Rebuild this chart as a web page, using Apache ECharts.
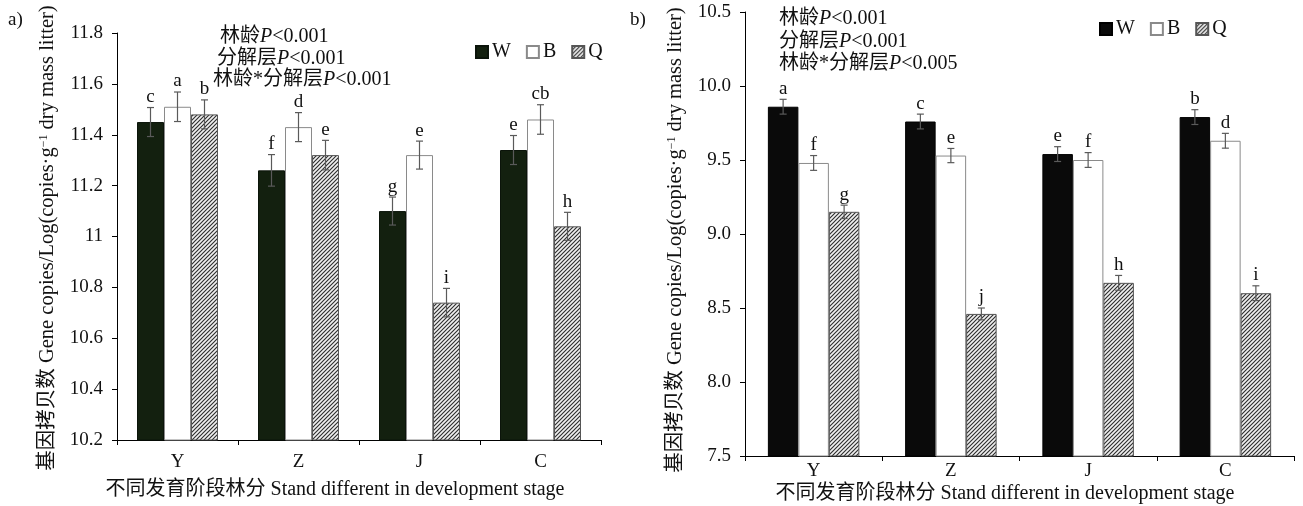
<!DOCTYPE html>
<html><head><meta charset="utf-8">
<script src="https://cdn.jsdelivr.net/npm/echarts@6/dist/echarts.min.js"></script>
<style>html,body{margin:0;padding:0;background:#fff}#c{width:1303px;height:506px}</style>
</head><body><div id="c"></div>
<script>
// ---- data ----
const categories = ['Y', 'Z', 'J', 'C'];
const seriesNames = ['W', 'B', 'Q'];
// panel a
const aW = [11.45, 11.26, 11.10, 11.34];
const aB = [11.51, 11.43, 11.32, 11.46];
const aQ = [11.48, 11.32, 10.74, 11.04];
const aWErr = [0.057, 0.062, 0.055, 0.057];
const aBErr = [0.058, 0.057, 0.055, 0.058];
const aQErr = [0.057, 0.058, 0.056, 0.055];
const aWLetters = ['c', 'f', 'g', 'e'];
const aBLetters = ['a', 'd', 'e', 'cb'];
const aQLetters = ['b', 'e', 'i', 'h'];
const aTicks = ['10.2', '10.4', '10.6', '10.8', '11', '11.2', '11.4', '11.6', '11.8'];
const aNotes = ['林龄', '分解层', '林龄*分解层'];
const aP = ['<0.001', '<0.001', '<0.001'];
// panel b
const bW = [9.86, 9.76, 9.54, 9.79];
const bB = [9.48, 9.53, 9.50, 9.63];
const bQ = [9.15, 8.46, 8.67, 8.60];
const bWErr = [0.05, 0.05, 0.05, 0.05];
const bBErr = [0.05, 0.048, 0.05, 0.05];
const bQErr = [0.045, 0.04, 0.05, 0.05];
const bWLetters = ['a', 'c', 'e', 'b'];
const bBLetters = ['f', 'e', 'f', 'd'];
const bQLetters = ['g', 'j', 'h', 'i'];
const bTicks = ['7.5', '8.0', '8.5', '9.0', '9.5', '10.0', '10.5'];
const bNotes = ['林龄', '分解层', '林龄*分解层'];
const bP = ['<0.001', '<0.001', '<0.005'];

const yTitle = '基因拷贝数 Gene copies/Log(copies·g{sup|−1} dry mass litter)';
const xTitle = '不同发育阶段林分 Stand different in development stage';

// ---- styles ----
const FONT = "'Liberation Serif', 'Noto Sans CJK SC', serif";
function hatch() {
  const c = document.createElement('canvas');
  c.width = 4; c.height = 4;
  const g = c.getContext('2d');
  g.fillStyle = '#f0f0f0'; g.fillRect(0, 0, 4, 4);
  g.strokeStyle = '#2e2e2e'; g.lineWidth = 1.15;
  g.beginPath();
  g.moveTo(-1, 5); g.lineTo(5, -1);
  g.moveTo(-1, 1); g.lineTo(1, -1);
  g.moveTo(3, 5); g.lineTo(5, 3);
  g.stroke();
  return c;
}
const hatchPattern = { image: hatch(), repeat: 'repeat' };

function barSeries(name, data, gi, color, border, bw) {
  return {
    type: 'bar', name, data, xAxisIndex: gi, yAxisIndex: gi,
    barWidth: bw, barGap: '0%',
    itemStyle: { color, borderColor: border, borderWidth: 1 },
    z: 2
  };
}
function errSeries(vals, errs, letters, k, gi, bw) {
  return {
    type: 'custom', xAxisIndex: gi, yAxisIndex: gi, silent: true, z: 5,
    data: vals.map((v, i) => [i, v, errs[i]]),
    renderItem: (params, api) => {
      const ci = api.value(0), v = api.value(1), e = api.value(2);
      const t = api.coord([ci, v + e]), b = api.coord([ci, v - e]);
      const x = t[0] + (k - 1) * bw;
      const st = { stroke: '#5a5a5a', lineWidth: 1.2 };
      return {
        type: 'group', children: [
          { type: 'line', shape: { x1: x, y1: t[1], x2: x, y2: b[1] }, style: st },
          { type: 'line', shape: { x1: x - 3.5, y1: t[1], x2: x + 3.5, y2: t[1] }, style: st },
          { type: 'line', shape: { x1: x - 3.5, y1: b[1], x2: x + 3.5, y2: b[1] }, style: st },
          { type: 'text', x: x, y: t[1] - 1, style: { text: letters[params.dataIndex], font: '19px ' + FONT, fill: '#111', align: 'center', verticalAlign: 'bottom' } }
        ]
      };
    }
  };
}
function noteTexts(x0s, y0s, notes, ps) {
  return notes.map((n, i) => ({
    type: 'text', left: x0s[i], top: y0s[i],
    style: {
      text: n + '{i|P}' + ps[i], font: '20px ' + FONT, fill: '#111',
      rich: { i: { fontStyle: 'italic', fontFamily: FONT, fontSize: 20, fill: '#111' } }
    }
  }));
}
const richSup = { sup: { fontSize: 12, fontFamily: FONT, verticalAlign: 'top', padding: [0, 0, 8, 0] } };

const chart = echarts.init(document.getElementById('c'), null, { renderer: 'canvas' });
const axisBase = {
  axisLine: { show: true, lineStyle: { color: '#000', width: 1 } },
  axisTick: { show: true, lineStyle: { color: '#000' }, length: 5 },
  axisLabel: { color: '#111', fontFamily: FONT, fontSize: 19 },
  splitLine: { show: false }
};
chart.setOption({
  animation: false,
  grid: [
    { left: 117, top: 33, width: 484, height: 407 },
    { left: 745, top: 12, width: 549, height: 444 }
  ],
  xAxis: [
    Object.assign({}, axisBase, {
      type: 'category', gridIndex: 0, data: categories,
      axisLabel: Object.assign({}, axisBase.axisLabel, { margin: 13 })
    }),
    Object.assign({}, axisBase, {
      type: 'category', gridIndex: 1, data: categories,
      axisLabel: Object.assign({}, axisBase.axisLabel, { margin: 6 })
    })
  ],
  yAxis: [
    Object.assign({}, axisBase, {
      type: 'value', gridIndex: 0, min: 10.2, max: 11.8, interval: 0.2,
      axisLabel: Object.assign({}, axisBase.axisLabel, { margin: 14, formatter: (v) => aTicks[Math.round((v - 10.2) / 0.2)] })
    }),
    Object.assign({}, axisBase, {
      type: 'value', gridIndex: 1, min: 7.5, max: 10.5, interval: 0.5,
      axisLabel: Object.assign({}, axisBase.axisLabel, { margin: 14, formatter: (v) => bTicks[Math.round((v - 7.5) / 0.5)] })
    })
  ],
  legend: [
    {
      left: 470, top: 37, itemWidth: 12, itemHeight: 12, itemGap: 15, icon: 'rect',
      textStyle: { fontFamily: FONT, fontSize: 20, color: '#111', padding: [0, 0, 0, -1] },
      data: seriesNames.map(n => ({ name: n }))
    },
    {
      left: 1094, top: 14, itemWidth: 12, itemHeight: 12, itemGap: 15, icon: 'rect',
      textStyle: { fontFamily: FONT, fontSize: 20, color: '#111', padding: [0, 0, 0, -1] },
      data: [
        { name: 'W', itemStyle: { color: '#0a0a0a', borderColor: '#000' } },
        { name: 'B' }, { name: 'Q' }
      ]
    }
  ],
  series: [
    barSeries('W', aW, 0, '#13200f', '#0b140a', 27),
    barSeries('B', aB, 0, '#ffffff', '#8a8a8a', 27),
    barSeries('Q', aQ, 0, hatchPattern, '#555', 27),
    errSeries(aW, aWErr, aWLetters, 0, 0, 27),
    errSeries(aB, aBErr, aBLetters, 1, 0, 27),
    errSeries(aQ, aQErr, aQLetters, 2, 0, 27),
    barSeries('W', bW, 1, '#0a0a0a', '#000', 30.5),
    barSeries('B', bB, 1, '#ffffff', '#8a8a8a', 30.5),
    barSeries('Q', bQ, 1, hatchPattern, '#555', 30.5),
    errSeries(bW, bWErr, bWLetters, 0, 1, 30.5),
    errSeries(bB, bBErr, bBLetters, 1, 1, 30.5),
    errSeries(bQ, bQErr, bQLetters, 2, 1, 30.5)
  ],
  graphic: [
    { type: 'text', left: 8, top: 11, style: { text: 'a)', font: '19px ' + FONT, fill: '#111' } },
    { type: 'text', left: 630, top: 11, style: { text: 'b)', font: '19px ' + FONT, fill: '#111' } },
    ...noteTexts([220, 217, 213], [27, 49, 70], aNotes, aP),
    ...noteTexts([779, 779, 779], [9, 32, 54], bNotes, bP),
    { type: 'text', x: 48, y: 238, rotation: Math.PI / 2,
      style: { text: yTitle, font: '20.5px ' + FONT, fill: '#111', align: 'center', verticalAlign: 'middle', rich: richSup } },
    { type: 'text', x: 676, y: 240, rotation: Math.PI / 2,
      style: { text: yTitle, font: '20.5px ' + FONT, fill: '#111', align: 'center', verticalAlign: 'middle', rich: richSup } },
    { type: 'text', x: 335, y: 490,
      style: { text: xTitle, font: '20px ' + FONT, fill: '#111', align: 'center', verticalAlign: 'middle' } },
    { type: 'text', x: 1005, y: 494,
      style: { text: xTitle, font: '20px ' + FONT, fill: '#111', align: 'center', verticalAlign: 'middle' } }
  ]
});
</script></body></html>
